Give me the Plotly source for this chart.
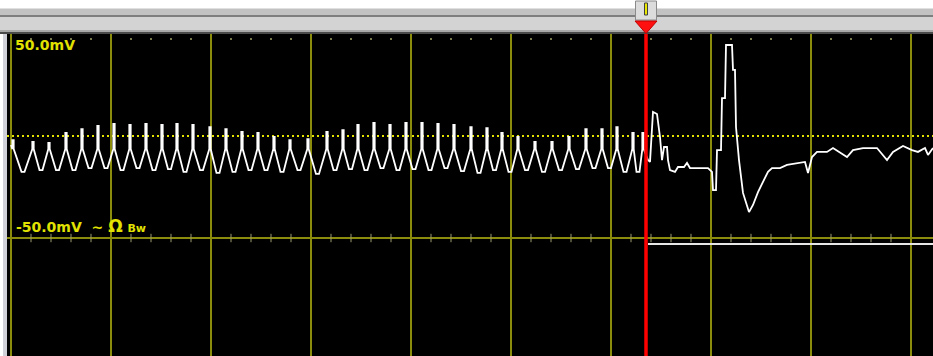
import plotly.graph_objects as go
import numpy as np

# ---------------- data (time in ms, 1 ms/div; voltage in mV) ----------------
lead_t = [0.00]
lead_mv = [-4.4]

peak_t = [0.02, 0.22, 0.38, 0.55, 0.71, 0.87, 1.03, 1.19, 1.35, 1.51,
          1.66, 1.82, 1.99, 2.15, 2.31, 2.47, 2.63, 2.79, 2.97, 3.16,
          3.32, 3.47, 3.63, 3.79, 3.95, 4.11, 4.27, 4.43, 4.60, 4.76,
          4.91, 5.07, 5.24, 5.41, 5.58, 5.75, 5.91, 6.06, 6.22, 6.32]
peak_mv = [-2.0, -2.9, -3.4, 1.5, 3.4, 4.9, 5.9, 5.4, 5.9, 5.4,
           5.9, 5.4, 4.4, 3.4, 2.0, 1.5, -0.5, -2.0, -1.5, 2.0,
           2.9, 5.4, 6.4, 5.4, 6.4, 6.4, 5.9, 5.4, 4.4, 3.9,
           1.5, -0.5, -2.9, -2.9, -0.5, 3.4, 3.4, 4.4, 1.5, 1.5]
# level at which each narrow peak pulse sits on the slower ramp (read ~ -6.4 mV)
pulse_base_mv = -6.4

trough_t = [0.12, 0.30, 0.465, 0.63, 0.79, 0.95, 1.11, 1.27, 1.43, 1.585,
            1.74, 1.905, 2.07, 2.23, 2.39, 2.55, 2.71, 2.88, 3.065, 3.24,
            3.395, 3.55, 3.71, 3.87, 4.03, 4.19, 4.35, 4.515, 4.68, 4.835,
            4.99, 5.155, 5.325, 5.495, 5.665, 5.83, 5.985, 6.14, 6.27]
trough_mv = [-17.6, -16.7, -16.7, -16.7, -15.7, -15.7, -16.7, -15.7, -16.7, -16.2,
             -17.6, -16.7, -18.1, -17.6, -16.7, -16.7, -17.6, -16.7, -18.6, -16.7,
             -16.2, -16.7, -15.7, -16.7, -16.2, -16.7, -15.7, -17.2, -18.1, -16.7,
             -17.6, -16.7, -17.6, -16.7, -16.2, -15.7, -15.7, -17.6, -17.6]

post_t = [6.34, 6.37, 6.39, 6.42, 6.46, 6.49, 6.51, 6.53, 6.56, 6.57,
          6.59, 6.64, 6.67, 6.73, 6.76, 6.79, 6.97, 7.01, 7.02, 7.05,
          7.06, 7.10, 7.11, 7.14, 7.15, 7.21, 7.22, 7.24, 7.25, 7.28,
          7.32, 7.38, 7.42, 7.47, 7.52, 7.57, 7.61, 7.69, 7.76, 7.89,
          7.94, 7.97, 8.01, 8.06, 8.16, 8.22, 8.29, 8.36, 8.42, 8.52,
          8.66, 8.76, 8.82, 8.92, 9.01, 9.07, 9.14, 9.17, 9.22]
post_mv = [-8.3, -11.8, -12.7, 11.8, 10.8, -0.5, -11.8, -5.4, -5.4, -11.8,
           -16.7, -17.6, -15.2, -15.2, -13.2, -15.7, -15.7, -17.6, -26.5, -26.5,
           -6.9, -6.9, 18.6, 18.6, 44.6, 44.6, 32.4, 32.4, 4.4, -11.8,
           -27.9, -37.3, -33.8, -27.5, -22.5, -17.6, -15.7, -15.7, -14.2, -13.2,
           -12.7, -18.1, -10.3, -7.8, -7.8, -5.9, -8.3, -10.3, -6.9, -5.9,
           -5.9, -11.8, -7.8, -4.9, -6.9, -7.8, -5.9, -9.3, -5.9]

trig_t = [6.37, 9.22]
trig_mv = [-52.9, -52.9]

cursor_t = 6.35
range_top_label = "50.0mV"
range_bottom_label = ("-50.0mV&nbsp;&nbsp;~&nbsp;<span style='font-size:17px'>Ω</span>"
                      "&nbsp;<span style='font-size:11px'>Bw</span>")

# ---------------- build signal ----------------
PW = 0.007   # half width of the narrow peak pulse (ms)
TW = 0.015   # half width of flat trough (ms)
sig_t = list(lead_t)
sig_mv = list(lead_mv)
for i in range(len(peak_t)):
    base = min(pulse_base_mv, peak_mv[i])
    sig_t += [peak_t[i] - PW, peak_t[i] - PW, peak_t[i] + PW, peak_t[i] + PW]
    sig_mv += [base, peak_mv[i], peak_mv[i], base]
    if i < len(trough_t):
        sig_t += [trough_t[i] - TW, trough_t[i] + TW]
        sig_mv += [trough_mv[i], trough_mv[i]]
sig_t += post_t
sig_mv += post_mv

W, H = 933, 356
ML, MT = 7, 34
XR = [-0.04, 9.22]
YR = [-107.84, 50.0]

def px_x(p):  # pixel -> paper x
    return (p - ML) / (W - ML)

def px_y(p):  # pixel -> paper y
    return (H - p) / (H - MT)

OLIVE = "#8c8c0c"
YEL = "#e2e200"

fig = go.Figure()

# graticule minor ticks (on -50 mV line and top edge)
minor = [v for v in np.round(np.arange(0.2, 9.2, 0.2), 2) if abs(v - round(v)) > 1e-6]
fig.add_trace(go.Scatter(x=minor, y=[-50] * len(minor), mode="markers",
                         marker=dict(symbol="line-ns", size=6, line=dict(color="#9a9a70", width=1)),
                         hoverinfo="skip", showlegend=False))
fig.add_trace(go.Scatter(x=minor, y=[47.5] * len(minor), mode="markers",
                         marker=dict(symbol="square", size=2, color="#7a7a50"),
                         hoverinfo="skip", showlegend=False))

# channel trace
fig.add_trace(go.Scatter(x=sig_t, y=sig_mv, mode="lines",
                         line=dict(color="#ffffff", width=1.8),
                         hoverinfo="skip", showlegend=False))
# second channel / trigger line
fig.add_trace(go.Scatter(x=trig_t, y=trig_mv, mode="lines",
                         line=dict(color="#e6e6e6", width=2),
                         hoverinfo="skip", showlegend=False))

shapes = []
# zero level dotted line
shapes.append(dict(type="line", xref="paper", yref="y", x0=0, x1=1, y0=0, y1=0,
                   line=dict(color=YEL, width=2, dash="2px,3px"), layer="below"))
# cursor
shapes.append(dict(type="line", xref="x", yref="paper", x0=cursor_t, x1=cursor_t, y0=0, y1=1,
                   line=dict(color="#ff0000", width=3.5), layer="above"))

# toolbar (top gray bar)
bands = [(8.5, 15, "#c2c2c2"), (15, 17, "#7e7e7e"), (17, 30, "#d3d3d3"),
         (30, 32, "#a9a9a9"), (32, 34, "#4a4a4a")]
for p0, p1, col in bands:
    shapes.append(dict(type="rect", xref="paper", yref="paper",
                       x0=px_x(0), x1=px_x(W), y0=px_y(p1), y1=px_y(p0),
                       fillcolor=col, line=dict(width=0), layer="above"))
# left frame strip
shapes.append(dict(type="rect", xref="paper", yref="paper",
                   x0=px_x(3), x1=px_x(7), y0=0, y1=1,
                   fillcolor="#cfd0d8", line=dict(width=0), layer="above"))

# cursor marker in toolbar
cx = (cursor_t - XR[0]) / (XR[1] - XR[0])
dx = 11 / (W - ML)
shapes.append(dict(type="rect", xref="paper", yref="paper",
                   x0=cx - dx + 0.5 / (W - ML), x1=cx + dx - 0.5 / (W - ML),
                   y0=px_y(20), y1=px_y(1),
                   fillcolor="#dcdcdc", line=dict(color="#8a8a8a", width=1), layer="above"))
shapes.append(dict(type="rect", xref="paper", yref="paper",
                   x0=cx - 1.5 / (W - ML), x1=cx + 1.5 / (W - ML),
                   y0=px_y(15), y1=px_y(3),
                   fillcolor="#e8e800", line=dict(color="#404040", width=1), layer="above"))
shapes.append(dict(type="path", xref="paper", yref="paper",
                   path="M {a},{b} L {c},{b} L {d},{e} Z".format(
                       a=cx - dx, c=cx + dx, b=px_y(21), d=cx, e=px_y(33.5)),
                   fillcolor="#ff1010", line=dict(color="#c00000", width=1), layer="above"))

annotations = [
    dict(x=0.025, y=49.0, xref="x", yref="y", text="<b>" + range_top_label + "</b>",
         showarrow=False, xanchor="left", yanchor="top", borderpad=0,
         font=dict(family="DejaVu Sans", size=14, color=YEL)),
    dict(x=0.035, y=-38.8, xref="x", yref="y", text="<b>" + range_bottom_label + "</b>",
         showarrow=False, xanchor="left", yanchor="top", borderpad=0,
         font=dict(family="DejaVu Sans", size=14, color=YEL)),
]

fig.update_layout(
    width=W, height=H,
    margin=dict(l=ML, r=0, t=MT, b=0, pad=0),
    paper_bgcolor="#ffffff",
    plot_bgcolor="#000000",
    showlegend=False,
    hovermode=False,
    shapes=shapes,
    annotations=annotations,
    xaxis=dict(range=XR, tick0=0, dtick=1, showgrid=True, gridcolor=OLIVE, gridwidth=2,
               zeroline=False, showticklabels=False, ticks="", showline=False, fixedrange=True),
    yaxis=dict(range=YR, tickvals=[-50], showgrid=True, gridcolor=OLIVE, gridwidth=2,
               zeroline=False, showticklabels=False, ticks="", showline=False, fixedrange=True),
)

fig.write_html("out.html", config={"displayModeBar": False})
